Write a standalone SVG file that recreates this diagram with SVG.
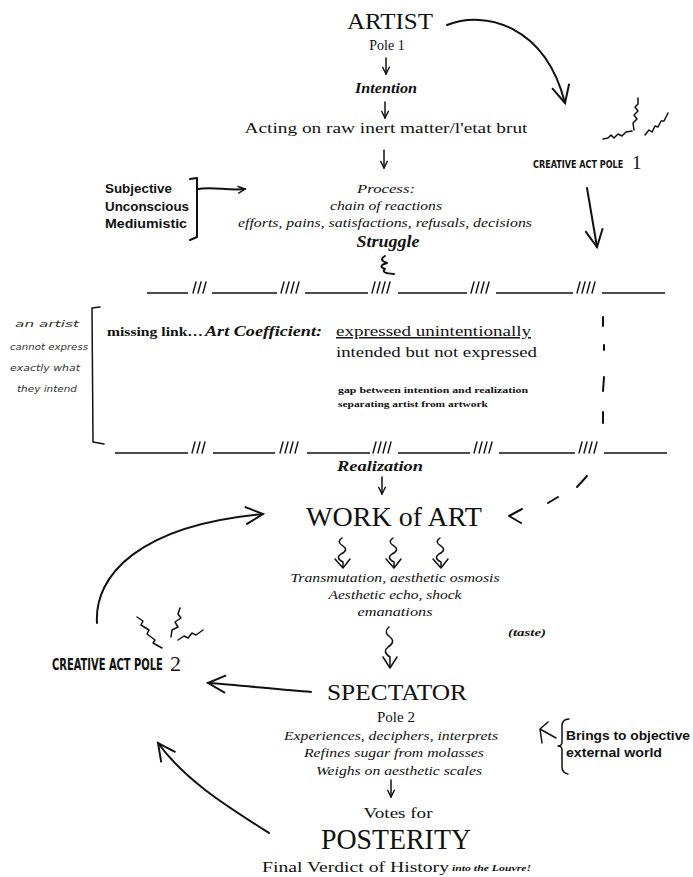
<svg xmlns="http://www.w3.org/2000/svg" width="693" height="877" viewBox="0 0 693 877">
<defs>
<style>
.s{font-family:"Liberation Serif",serif;fill:#111}
.c{text-anchor:middle}
.bi{font-weight:bold;font-style:italic}
.i{font-style:italic}
.b{font-weight:bold}
.sans{font-family:"Liberation Sans",sans-serif;font-weight:bold;fill:#111}
.cond{font-family:"DejaVu Sans Condensed","Liberation Sans Narrow",sans-serif;font-weight:bold;fill:#111}
.hand{font-family:"DejaVu Sans",sans-serif;font-style:italic;fill:#333;font-size:9px}
.ink{fill:none;stroke:#111;stroke-width:1.5;stroke-linecap:round;stroke-linejoin:round}
.pen{fill:none;stroke:#111;stroke-width:2;stroke-linecap:round;stroke-linejoin:round}
.rule{fill:none;stroke:#111;stroke-width:1.6}
.hatch{fill:none;stroke:#111;stroke-width:1.4;stroke-linecap:round}
</style>
<marker id="v" viewBox="0 0 10 10" refX="9" refY="5" markerWidth="9" markerHeight="9" markerUnits="userSpaceOnUse" orient="auto"><path d="M1,1 L9,5 L1,9" fill="none" stroke="#111" stroke-width="1.6"/></marker>
<marker id="vb" viewBox="0 0 10 10" refX="9" refY="5" markerWidth="22" markerHeight="22" markerUnits="userSpaceOnUse" orient="auto"><path d="M1,1 L9,5 L1,9" fill="none" stroke="#111" stroke-width="0.9"/></marker>
</defs>
<rect width="693" height="877" fill="#fff"/>

<g id="artist">
<text class="s c" x="390" y="29" font-size="23" textLength="86" lengthAdjust="spacingAndGlyphs">ARTIST</text>
<text class="s c" x="387" y="50" font-size="14">Pole 1</text>
</g>
<g id="intention"><text class="s c bi" x="386" y="93" font-size="14" textLength="62" lengthAdjust="spacingAndGlyphs">Intention</text></g>
<g id="acting"><text class="s c" x="386" y="133" font-size="15" textLength="283" lengthAdjust="spacingAndGlyphs">Acting on raw inert matter/l'etat brut</text></g>
<g id="creative-act-pole-1">
<text class="cond" transform="translate(533,168) scale(0.82,1)" font-size="11" textLength="110" lengthAdjust="spacingAndGlyphs">CREATIVE ACT POLE</text>
<text class="s" x="632" y="169" font-size="19">1</text>
</g>
<g id="subjective">
<text class="sans" x="105" y="193" font-size="12" textLength="67" lengthAdjust="spacingAndGlyphs">Subjective</text>
<text class="sans" x="105" y="211" font-size="12" textLength="84" lengthAdjust="spacingAndGlyphs">Unconscious</text>
<text class="sans" x="105" y="228" font-size="12" textLength="82" lengthAdjust="spacingAndGlyphs">Mediumistic</text>
</g>
<g id="process">
<text class="s c i" x="386" y="193" font-size="13" textLength="58" lengthAdjust="spacingAndGlyphs">Process:</text>
<text class="s c i" x="386" y="210" font-size="13" textLength="112" lengthAdjust="spacingAndGlyphs">chain of reactions</text>
<text class="s c i" x="385" y="227" font-size="13" textLength="294" lengthAdjust="spacingAndGlyphs">efforts, pains, satisfactions, refusals, decisions</text>
<text class="s c bi" x="388" y="247" font-size="16" textLength="63" lengthAdjust="spacingAndGlyphs">Struggle</text>
</g>
<g id="art-coefficient">
<text class="s b" x="107" y="336" font-size="13" textLength="96" lengthAdjust="spacingAndGlyphs">missing link…</text>
<text class="s bi" x="205" y="336" font-size="15" textLength="117" lengthAdjust="spacingAndGlyphs">Art Coefficient:</text>
<text class="s" x="336" y="336" font-size="15" textLength="195" lengthAdjust="spacingAndGlyphs" text-decoration="underline">expressed unintentionally</text>
<text class="s" x="336" y="357" font-size="15" textLength="201" lengthAdjust="spacingAndGlyphs">intended but not expressed</text>
<text class="s b" x="338" y="393" font-size="8" textLength="190" lengthAdjust="spacingAndGlyphs">gap between intention and realization</text>
<text class="s b" x="338" y="407" font-size="8" textLength="150" lengthAdjust="spacingAndGlyphs">separating artist from artwork</text>
</g>
<g id="note">
<text class="hand" x="15" y="327" textLength="64" lengthAdjust="spacingAndGlyphs">an artist</text>
<text class="hand" x="10" y="350" textLength="78" lengthAdjust="spacingAndGlyphs">cannot express</text>
<text class="hand" x="10" y="371" textLength="70" lengthAdjust="spacingAndGlyphs">exactly what</text>
<text class="hand" x="17" y="392" textLength="60" lengthAdjust="spacingAndGlyphs">they intend</text>
</g>
<g id="realization"><text class="s c bi" x="380" y="471" font-size="15" textLength="86" lengthAdjust="spacingAndGlyphs">Realization</text></g>
<g id="work-of-art"><text class="s c" x="394" y="526" font-size="27" textLength="176" lengthAdjust="spacingAndGlyphs">WORK of ART</text></g>
<g id="effects">
<text class="s c i" x="395" y="582" font-size="12" textLength="209" lengthAdjust="spacingAndGlyphs">Transmutation, aesthetic osmosis</text>
<text class="s c i" x="395" y="599" font-size="12" textLength="133" lengthAdjust="spacingAndGlyphs">Aesthetic echo, shock</text>
<text class="s c i" x="395" y="616" font-size="12" textLength="75" lengthAdjust="spacingAndGlyphs">emanations</text>
</g>
<g id="taste"><text class="s bi" x="508" y="636" font-size="11" textLength="38" lengthAdjust="spacingAndGlyphs">(taste)</text></g>
<g id="creative-act-pole-2">
<text class="cond" transform="translate(52,670) scale(0.72,1)" font-size="15" textLength="154" lengthAdjust="spacingAndGlyphs">CREATIVE ACT POLE</text>
<text class="s" x="170" y="671" font-size="22">2</text>
</g>
<g id="spectator">
<text class="s c" x="397" y="700" font-size="24" textLength="140" lengthAdjust="spacingAndGlyphs">SPECTATOR</text>
<text class="s c" x="396" y="722" font-size="15">Pole 2</text>
<text class="s c i" x="391" y="740" font-size="12" textLength="214" lengthAdjust="spacingAndGlyphs">Experiences, deciphers, interprets</text>
<text class="s c i" x="394" y="757" font-size="12" textLength="180" lengthAdjust="spacingAndGlyphs">Refines sugar from molasses</text>
<text class="s c i" x="399" y="775" font-size="12" textLength="166" lengthAdjust="spacingAndGlyphs">Weighs on aesthetic scales</text>
</g>
<g id="brings">
<text class="sans" x="566" y="740" font-size="12" textLength="124" lengthAdjust="spacingAndGlyphs">Brings to objective</text>
<text class="sans" x="566" y="757" font-size="12" textLength="96" lengthAdjust="spacingAndGlyphs">external world</text>
</g>
<g id="posterity">
<text class="s c" x="398" y="818" font-size="15" textLength="69" lengthAdjust="spacingAndGlyphs">Votes for</text>
<text class="s c" x="396" y="849" font-size="29" textLength="150" lengthAdjust="spacingAndGlyphs">POSTERITY</text>
<text class="s" x="262" y="872" font-size="15" textLength="187" lengthAdjust="spacingAndGlyphs">Final Verdict of History</text>
<text class="s bi" x="452" y="871" font-size="9" textLength="79" lengthAdjust="spacingAndGlyphs">into the Louvre!</text>
</g>

<g id="connectors">
<path class="ink" d="M386,58 L386,74" marker-end="url(#v)"/>
<path class="ink" d="M385,102 L385,118" marker-end="url(#v)"/>
<path class="ink" d="M384,150 L384,168" marker-end="url(#v)"/>
<path class="ink" d="M382,477 L382,494" marker-end="url(#v)"/>
<path class="ink" d="M391,780 L391,797" marker-end="url(#v)"/>
<path class="pen" d="M447,25 C485,10 545,25 565,103" marker-end="url(#vb)"/>
<path class="pen" d="M587,188 L597,247" marker-end="url(#vb)"/>
<path class="pen" d="M190,179 L197,178 L197,237 L190,240"/>
<path class="pen" d="M198,189 C212,186 228,191 245,189" marker-end="url(#v)"/>
<path class="pen" d="M385,256 Q378,260 387,263 Q377,266 385,269 Q380,273 394,274"/>
<path class="rule" d="M147,293 H188 M212,293 H277 M305,293 H368 M398,293 H467 M496,293 H573 M602,293 H665"/>
<path class="hatch" d="M193,293 l3,-11 M198,293 l3,-11 M203,293 l3,-11 M281,293 l3,-11 M286,293 l3,-11 M291,293 l3,-11 M296,293 l3,-11 M372,293 l3,-11 M377,293 l3,-11 M382,293 l3,-11 M387,293 l3,-11 M471,293 l3,-11 M476,293 l3,-11 M481,293 l3,-11 M486,293 l3,-11 M577,293 l3,-11 M582,293 l3,-11 M587,293 l3,-11 M592,293 l3,-11"/>
<path class="rule" d="M115,453 H188 M213,453 H275 M307,453 H370 M398,453 H470 M499,453 H575 M604,453 H667"/>
<path class="hatch" d="M192,453 l3,-11 M197,453 l3,-11 M202,453 l3,-11 M280,453 l3,-11 M285,453 l3,-11 M290,453 l3,-11 M295,453 l3,-11 M373,453 l3,-11 M378,453 l3,-11 M383,453 l3,-11 M388,453 l3,-11 M474,453 l3,-11 M479,453 l3,-11 M484,453 l3,-11 M489,453 l3,-11 M579,453 l3,-11 M584,453 l3,-11 M589,453 l3,-11 M594,453 l3,-11"/>
<path class="ink" d="M100,307 L92,308 L93,442 L104,444"/>
<path class="pen" d="M603,317 L603,326 M604,345 L604,350 M604,377 L603,391 M603,412 L603,423 M587,476 L577,487 M558,497 L548,503"/>
<path class="pen" d="M522,509 L509,516 L521,523"/>
<path class="ink" d="M342,538 Q336,542 343,546 Q349,550 341,554 Q335,558 343,562 L343,567"/>
<path class="ink" d="M335,559 L343,568 L350,559"/>
<path class="ink" d="M393,538 Q387,542 394,546 Q400,550 392,554 Q386,558 394,562 L394,567"/>
<path class="ink" d="M386,559 L394,568 L401,559"/>
<path class="ink" d="M440,538 Q434,542 441,546 Q447,550 439,554 Q433,558 441,562 L441,567"/>
<path class="ink" d="M433,559 L441,568 L448,559"/>
<path class="ink" d="M389,627 Q383,632 390,637 Q396,642 388,647 Q382,652 390,657 L390,667"/>
<path class="ink" d="M383,657 L390,668 L397,657"/>
<path class="pen" d="M311,692 C280,690 240,685 208,683" marker-end="url(#vb)"/>
<path class="pen" d="M97,623 C94,575 140,525 263,514" marker-end="url(#vb)"/>
<path class="pen" d="M269,833 C225,805 185,780 158,743" marker-end="url(#vb)"/>
<path class="ink" d="M569,719 Q562,719 562,726 L562,742 Q562,746 558,746 Q562,746 562,750 L562,767 Q562,773 568,774"/>
<path class="ink" d="M556,738 L540,729 M540,729 L548,722 M540,729 L542,743"/>
<path class="ink" d="M603,139 L608,138 L611,135 L614,138 L618,134 L622,136 L626,132 L632,131"/>
<path class="ink" d="M638,98 L638,104 L635,107 L638,111 L634,115 L637,119 L633,123 L634,130"/>
<path class="ink" d="M645,135 L649,130 L652,132 L655,126 L658,127 L661,121 L664,121 L668,113"/>
<path class="ink" d="M137,617 L143,621 L141,625 L149,630 L147,634 L155,640 L153,643 L162,648"/>
<path class="ink" d="M180,608 L178,614 L181,618 L175,622 L178,627 L172,630 L171,637"/>
<path class="ink" d="M178,640 L184,636 L188,638 L192,633 L196,635 L203,630"/>
</g>
</svg>
